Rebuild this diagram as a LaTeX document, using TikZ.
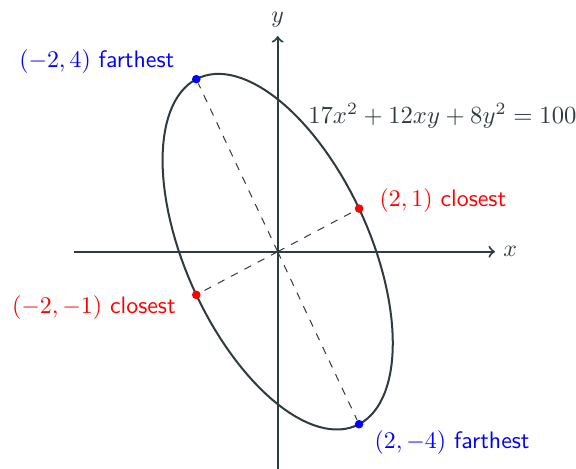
\documentclass[tikz,border=0pt]{standalone}
\usepackage{amsmath, amssymb}
\usepackage{xcolor}
\definecolor{axis-gray}{HTML}{2F3B3F}
\definecolor{near-red}{HTML}{FF0000}
\definecolor{far-blue}{HTML}{0000FF}

\begin{document}
\begin{tikzpicture}[x=0.57cm, y=0.604cm,
      every node/.style={scale=0.95},
      dot/.style={circle, inner sep=0pt, minimum size=3.6pt},
      lbl/.style={inner sep=0pt}]
    \useasboundingbox (-3.889cm,-3.043cm) rectangle (4.178cm,3.525cm);
    % axes
    \coordinate (O) at (0,0);
    \coordinate (xl) at (-5,0);
    \coordinate (xr) at (5.34,0);
    \coordinate (yb) at (0,-5.2);
    \coordinate (yt) at (0,5);
    \draw[thick, axis-gray, ->] (xl) -- (xr);
    \draw[thick, axis-gray, ->] (yb) -- (yt);
    \node[text=axis-gray, anchor=west] (xlab) at (xr) {$x$};
    \node[text=axis-gray, anchor=south] (ylab) at (yt) {$y$};
    % the ellipse 17x^2+12xy+8y^2=100
    \draw[thick, axis-gray] plot[domain=0:360, samples=121, variable=\t]
          ({2*cos(\t)-2*sin(\t)}, {cos(\t)+4*sin(\t)}) -- cycle;
    \node[lbl, scale=1.035, text=axis-gray, anchor=base west] (eqn) at (0.74,2.98)
          {$17x^2+12xy+8y^2=100$};
    % extreme points
    \node[dot, fill=near-red] (P21) at (2,1) {};
    \node[dot, fill=near-red] (Pm2m1) at (-2,-1) {};
    \node[dot, fill=far-blue] (Pm24) at (-2,4) {};
    \node[dot, fill=far-blue] (P2m4) at (2,-4) {};
    \foreach \p in {P21, Pm2m1, Pm24, P2m4} { \draw[dashed, thin, axis-gray] (O) -- (\p); }
    \node[lbl, text=far-blue, anchor=base east] (Lm24) at ([shift={(-8.6pt,4.6pt)}]Pm24.center)
          {$(-2,4)$ \textsf{farthest}};
    \node[lbl, text=near-red, anchor=base west] (L21) at ([shift={(8pt,0.7pt)}]P21.center)
          {$(2,1)$ \textsf{closest}};
    \node[lbl, text=near-red, anchor=base east] (Lm2m1) at ([shift={(-8pt,-7.3pt)}]Pm2m1.center)
          {$(-2,-1)$ \textsf{closest}};
    \node[lbl, text=far-blue, anchor=base west] (L2m4) at ([shift={(6pt,-9.6pt)}]P2m4.center)
          {$(2,-4)$ \textsf{farthest}};
  \end{tikzpicture}
\end{document}
